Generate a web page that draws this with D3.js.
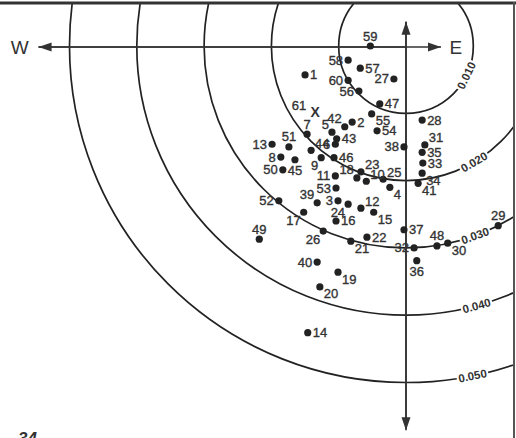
<!DOCTYPE html>
<html>
<head>
<meta charset="utf-8">
<script src="https://cdn.jsdelivr.net/npm/d3@7"></script>
<style>
body { margin: 0; background: #fff; }
text { font-family: "Liberation Sans", Arial, sans-serif; }
</style>
</head>
<body>
<svg id="main_svg"></svg>
<script>
const WIDTH = 516;
const HEIGHT = 438;

// ring radii (same units as the point offsets, thousandths)
const rings = [10, 20, 30, 40, 50];
const ringLabels = ['0.010', '0.020', '0.030', '0.040', '0.050'];

// point ids and offsets east / north of the centre (thousandths)
const ids = [59, 58, 57, 1, 27, 60, 56, 47, 55, 28, 2, 42, 54, 5, 43, 7, 51, 13, 38, 31,
	35, 33, 34, 41, 44, 6, 8, 45, 9, 46, 50, 11, 23, 18, 10, 25, 4, 53, 52, 39,
	3, 24, 12, 15, 16, 17, 49, 26, 21, 22, 37, 32, 48, 30, 29, 36, 40, 19, 20, 14];
const east = [-5.3, -8.6, -6.8, -15.0, -1.8, -8.6, -7.0, -3.9, -5.1, 2.4, -8.0, -9.1, -4.3, -11.0, -10.3, -14.7, -17.4, -19.9, -0.3, 2.8,
	2.4, 2.5, 2.4, 1.8, -14.1, -10.5, -18.6, -16.5, -12.6, -10.7, -18.3, -10.5, -6.7, -7.3, -5.9, -3.4, -2.4, -10.4, -18.9, -13.2,
	-10.1, -8.6, -6.7, -4.8, -10.4, -15.2, -21.8, -12.3, -8.2, -5.8, -0.3, 1.2, 4.6, 6.2, 13.7, 1.6, -13.2, -10.1, -12.8, -14.6];
const north = [0.0, -2.1, -3.3, -4.3, -4.9, -5.1, -6.7, -8.6, -10.1, -11.0, -11.3, -12.0, -12.6, -12.8, -13.8, -13.1, -15.0, -14.6, -15.0, -14.7,
	-15.8, -17.4, -18.9, -20.4, -15.5, -14.6, -16.5, -16.9, -16.6, -16.6, -18.4, -19.3, -18.7, -19.6, -20.1, -19.8, -21.0, -21.1, -23.0, -23.3,
	-23.0, -23.5, -24.1, -24.7, -26.0, -24.7, -28.7, -27.5, -29.0, -28.4, -27.3, -30.0, -29.7, -29.3, -26.7, -31.9, -32.1, -33.6, -35.8, -42.6];
// where each number sits beside its dot
const side = ['t', 'l', 'r', 'r', 'l', 'l', 'l', 'r', 'br', 'r', 'r', 'tl', 'r', 'tl', 'r', 't', 't', 'l', 'l', 'tr',
	'r', 'r', 'br', 'br', 'tr', 'l', 'l', 'b', 'bl', 'r', 'l', 'l', 'tr', 'tl', 'tr', 'tr', 'br', 'l', 'l', 'tl',
	'l', 'bl', 'tr', 'br', 'r', 'bl', 't', 'bl', 'br', 'r', 'r', 'l', 't', 'br', 't', 'b', 'l', 'br', 'br', 'r'];

// the station marked with a cross
const crossId = 61;
const crossEast = -13.5;
const crossNorth = -9.8;

const x = d3.scaleLinear().domain([0, 10]).range([406, 473.3]);
const y = d3.scaleLinear().domain([0, 10]).range([46, -21.3]);
const unit = x(1) - x(0);

const svg = d3.select('#main_svg').attr('width', WIDTH).attr('height', HEIGHT);

svg.append('defs').append('clipPath').attr('id', 'frame')
	.append('rect').attr('x', 0).attr('y', 4).attr('width', 513).attr('height', HEIGHT);

const g = svg.append('g').attr('clip-path', 'url(#frame)');

// rings
g.selectAll('.ring')
	.data(rings)
	.enter()
	.append('circle')
	.attr('cx', x(0))
	.attr('cy', y(0))
	.attr('r', d => d * unit)
	.attr('fill', 'none')
	.attr('stroke', '#222')
	.attr('stroke-width', 1.7);

// ring labels, rotated along the ring
const labelAngle = [26, 59.6, 70, 74.8, 78.6];
rings.forEach((r, i) => {
	const a = labelAngle[i] * Math.PI / 180;
	const cx = x(0) + r * unit * Math.cos(a);
	const cy = y(0) + r * unit * Math.sin(a);
	const lg = g.append('g').attr('transform', `translate(${cx},${cy}) rotate(${labelAngle[i] - 90})`);
	lg.append('rect').attr('x', -16).attr('y', -6).attr('width', 32).attr('height', 12).attr('fill', '#fff');
	lg.append('text')
		.attr('text-anchor', 'middle')
		.attr('dominant-baseline', 'central')
		.attr('font-size', 11.5)
		.attr('font-weight', 'bold')
		.attr('fill', '#333')
		.text(ringLabels[i]);
});

// axes with arrows
const arrow = (x1, y1, x2, y2) => {
	g.append('line').attr('x1', x1).attr('y1', y1).attr('x2', x2).attr('y2', y2)
		.attr('stroke', '#333').attr('stroke-width', 1.6);
	const ang = Math.atan2(y2 - y1, x2 - x1);
	const L = 13, W = 4.5;
	const p = [[x2, y2],
		[x2 - L * Math.cos(ang) + W * Math.sin(ang), y2 - L * Math.sin(ang) - W * Math.cos(ang)],
		[x2 - L * Math.cos(ang) - W * Math.sin(ang), y2 - L * Math.sin(ang) + W * Math.cos(ang)]];
	g.append('path').attr('d', d3.line()(p) + 'Z').attr('fill', '#333');
};
arrow(x(0), y(0) + 1, x(-54.6), y(0) + 1);
arrow(x(-54.6), y(0) + 1, x(5.2), y(0) + 1);
arrow(x(0), y(-56.8), x(0), y(3.6));
arrow(x(0), y(3.6), x(0), y(-57.1));

g.append('text').attr('x', x(-57.4)).attr('y', y(0) + 1).attr('dominant-baseline', 'central')
	.attr('text-anchor', 'middle').attr('font-size', 19).attr('fill', '#333').text('W');
g.append('text').attr('x', x(7.4)).attr('y', y(0) + 1).attr('dominant-baseline', 'central')
	.attr('text-anchor', 'middle').attr('font-size', 19).attr('fill', '#333').text('E');

// stations
const offsets = {
	r: [5, 0, 'start'], l: [-5, 0, 'end'], t: [0, -10, 'middle'], b: [0, 11, 'middle'],
	tr: [4, -7, 'start'], tl: [-3, -8, 'end'], br: [4, 7, 'start'], bl: [-3, 8, 'end']
};
const pts = ids.map((id, i) => ({id: id, e: east[i], n: north[i], s: side[i]}));

g.selectAll('.dot')
	.data(pts)
	.enter()
	.append('circle')
	.attr('cx', d => x(d.e))
	.attr('cy', d => y(d.n))
	.attr('r', 3.6)
	.attr('fill', '#222');

g.selectAll('.lab')
	.data(pts)
	.enter()
	.append('text')
	.attr('x', d => x(d.e) + offsets[d.s][0])
	.attr('y', d => y(d.n) + offsets[d.s][1])
	.attr('text-anchor', d => offsets[d.s][2])
	.attr('dominant-baseline', 'central')
	.attr('font-size', 13)
	.attr('fill', '#333')
	.attr('stroke', '#333')
	.attr('stroke-width', 0.35)
	.text(d => d.id);

g.append('text').attr('x', x(crossEast)).attr('y', y(crossNorth))
	.attr('text-anchor', 'middle').attr('dominant-baseline', 'central')
	.attr('font-size', 14).attr('font-weight', 'bold').attr('fill', '#333').text('X');
g.append('text').attr('x', x(crossEast) - 9).attr('y', y(crossNorth) - 6)
	.attr('text-anchor', 'end').attr('dominant-baseline', 'central')
	.attr('font-size', 13).attr('fill', '#333').attr('stroke', '#333').attr('stroke-width', 0.35)
	.text(crossId);

// frame
svg.append('line').attr('x1', 0).attr('x2', WIDTH).attr('y1', 3).attr('y2', 3)
	.attr('stroke', '#333').attr('stroke-width', 3);
svg.append('line').attr('x1', 514).attr('x2', 514).attr('y1', 2).attr('y2', HEIGHT)
	.attr('stroke', '#555').attr('stroke-width', 2);

svg.append('text').attr('x', 18).attr('y', 444).attr('font-size', 17).attr('font-weight', 'bold')
	.attr('font-style', 'italic').attr('fill', '#333').text('34');
</script>
</body>
</html>
